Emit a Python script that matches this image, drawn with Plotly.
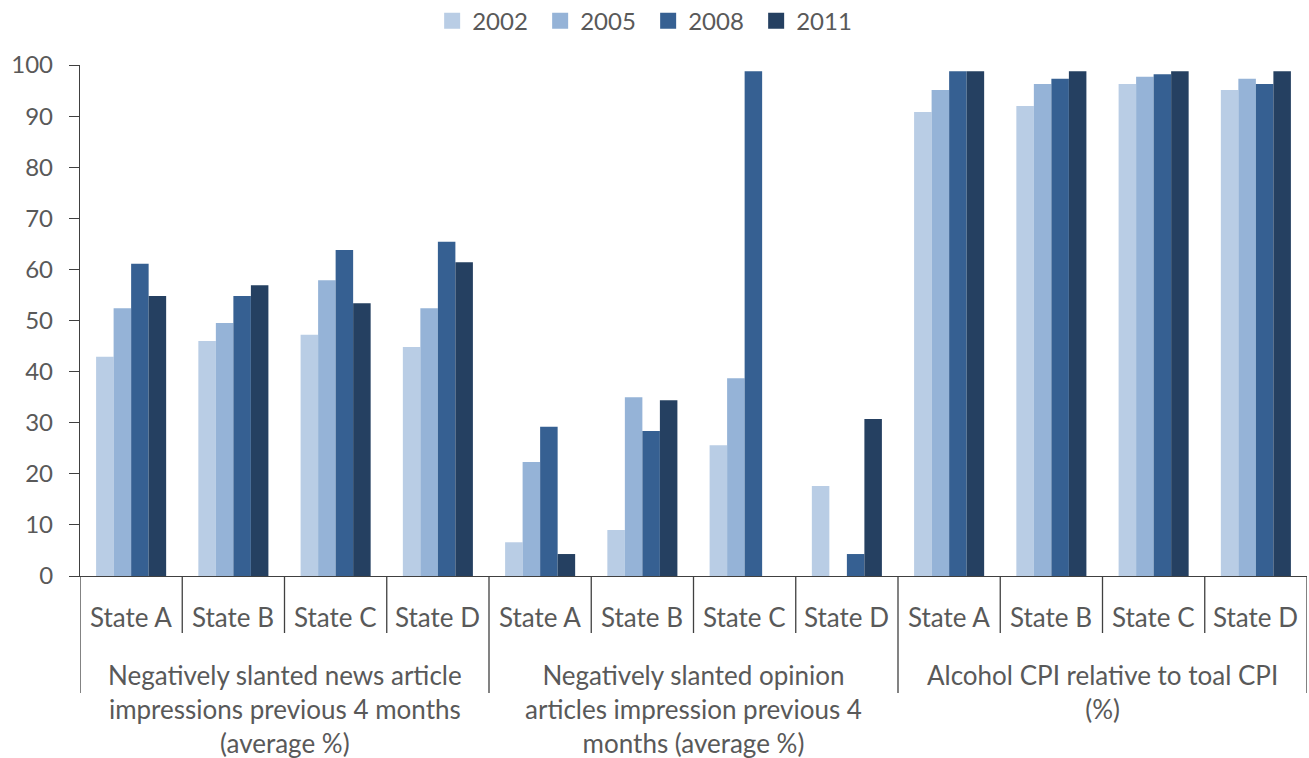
import plotly.graph_objects as go

# ---- data -------------------------------------------------------------
groups = [
    "Negatively slanted news article<br>impressions previous 4 months<br>(average %)",
    "Negatively slanted opinion<br>articles impression previous 4<br>months (average %)",
    "Alcohol CPI relative to toal CPI<br>(%)",
]
states = ["State A", "State B", "State C", "State D"]
years = ["2002", "2005", "2008", "2011"]

v2002 = [42.9, 46.0, 47.2, 44.8, 6.6, 9.0, 25.6, 17.6, 90.8, 92.0, 96.3, 95.1]
v2005 = [52.4, 49.5, 57.9, 52.4, 22.3, 35.0, 38.7, 0.0, 95.1, 96.3, 97.7, 97.3]
v2008 = [61.1, 54.8, 63.8, 65.4, 29.2, 28.4, 98.8, 4.3, 98.8, 97.3, 98.2, 96.3]
v2011 = [54.8, 56.9, 53.4, 61.4, 4.3, 34.4, 0.0, 30.7, 98.8, 98.8, 98.8, 98.8]

y_ticks = [0, 10, 20, 30, 40, 50, 60, 70, 80, 90, 100]

# ---- styling ----------------------------------------------------------
colors = ["#B9CDE5", "#95B3D7", "#366092", "#254061"]
series = [v2002, v2005, v2008, v2011]
FONT = "Lato"
TEXT = "#595959"
LINE = "#404040"

n_states = len(states)
n_cat = len(groups) * n_states
xpos = list(range(n_cat))

fig = go.Figure()
for name, vals, col in zip(years, series, colors):
    fig.add_trace(go.Bar(
        x=xpos, y=vals, name=name, legendgroup=name, showlegend=False,
        marker=dict(color=col, line=dict(width=0)),
    ))
# legend keys drawn as larger square swatches
for name, col in zip(years, colors):
    fig.add_trace(go.Scatter(
        x=[None], y=[None], mode="markers", name=name, legendgroup=name,
        marker=dict(symbol="square", size=16, color=col),
    ))

# plot area is 511 px tall; helper converts pixel offsets below the axis
PLOT_H = 511
def below(px):
    return -px / PLOT_H

shapes = []
# separators: short ones between states, long ones at group edges
for i in range(n_cat + 1):
    xb = i - 0.5
    is_group_edge = (i % n_states == 0)
    shapes.append(dict(
        type="line", xref="x", yref="paper",
        x0=xb, x1=xb, y0=0, y1=below(117 if is_group_edge else 57),
        line=dict(color=LINE, width=1.3),
    ))

annotations = []
for i in range(n_cat):
    annotations.append(dict(
        x=i, y=below(41), xref="x", yref="paper",
        text=states[i % n_states], showarrow=False,
        xanchor="center", yanchor="middle",
        font=dict(family=FONT, size=26, color=TEXT),
    ))
for g, label in enumerate(groups):
    annotations.append(dict(
        x=g * n_states + (n_states - 1) / 2, y=below(81),
        xref="x", yref="paper",
        text=label, showarrow=False,
        xanchor="center", yanchor="top", align="center",
        font=dict(family=FONT, size=26, color=TEXT),
    ))

fig.update_layout(
    width=1309, height=758,
    margin=dict(l=80, r=2, t=65, b=182, autoexpand=False),
    paper_bgcolor="white", plot_bgcolor="white",
    barmode="group", bargap=0.315, bargroupgap=0,
    font=dict(family=FONT, size=24, color=TEXT),
    showlegend=True,
    legend=dict(
        orientation="h", x=0.287, xanchor="left",
        y=1.086, yanchor="middle",
        font=dict(family=FONT, size=24, color=TEXT),
        entrywidth=63, entrywidthmode="pixels",
        itemclick=False, itemdoubleclick=False,
    ),
    xaxis=dict(
        range=[-0.5, n_cat - 0.5], showticklabels=False, ticks="",
        showgrid=False, zeroline=False,
        showline=True, linecolor=LINE, linewidth=1.3,
    ),
    yaxis=dict(
        range=[0, 100], tickvals=y_ticks, ticks="outside", ticklen=10,
        tickcolor=LINE, tickwidth=1.3, ticklabelstandoff=11,
        showgrid=False, zeroline=False,
        showline=True, linecolor=LINE, linewidth=1.3,
        tickfont=dict(family=FONT, size=24, color=TEXT),
    ),
    shapes=shapes,
    annotations=annotations,
)

fig.write_html("out.html")
